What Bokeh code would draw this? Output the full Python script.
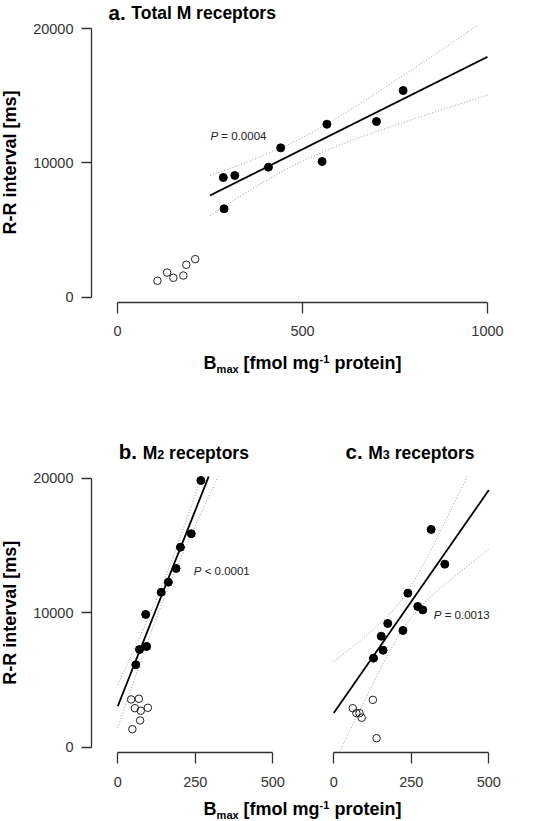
import numpy as np
from bokeh.plotting import figure
from bokeh.models import Range1d, FixedTicker, Label, LinearAxis
from bokeh.layouts import column, row
from bokeh.embed import file_html
from bokeh.resources import INLINE

# ---------------- data ----------------
a_filled_x = [286, 317, 288, 408, 441, 553, 566, 700, 772]
a_filled_y = [8900, 9050, 6570, 9670, 11110, 10090, 12870, 13070, 15380]
a_open_x = [108, 134, 151, 178, 186, 210]
a_open_y = [1210, 1820, 1430, 1600, 2400, 2820]

b_filled_x = [268, 237, 202, 188, 163, 140, 90, 93, 70, 58]
b_filled_y = [19830, 15870, 14870, 13290, 12270, 11520, 9870, 7490, 7260, 6130]
b_open_x = [43, 68, 55, 74, 97, 72, 47]
b_open_y = [3550, 3600, 2900, 2710, 2930, 1990, 1340]

c_filled_x = [314, 358, 239, 271, 287, 174, 223, 153, 159, 128]
c_filled_y = [16190, 13610, 11450, 10460, 10210, 9200, 8680, 8250, 7210, 6620]
c_open_x = [126, 61, 73, 83, 90, 138]
c_open_y = [3520, 2900, 2530, 2530, 2190, 670]

fit_range_a = [250, 1000]
fit_range_b = [0, 500]
fit_range_c = [0, 500]

a_xticks = [0, 500, 1000]
a_xtick_labels = ["0", "500", "1000"]
bc_xticks = [0, 250, 500]
bc_xtick_labels = ["0", "250", "500"]
yticks = [0, 10000, 20000]
ytick_labels = ["0", "10000", "20000"]

# title pieces: (text, font size, space before)
title_a = [("a.", 20.5, False), ("Total M receptors", 17.5, True)]
title_b = [("b.", 20.5, False), ("M", 17.5, True), ("2", 12.5, False), ("receptors", 17.5, True)]
title_c = [("c.", 20.5, False), ("M", 17.5, True), ("3", 12.5, False), ("receptors", 17.5, True)]
p_rest_a = "= 0.0004"
p_rest_b = "< 0.0001"
p_rest_c = "= 0.0013"
ylabel = "R-R interval [ms]"

FONT = "Liberation Sans"
AX = "#333333"
T975 = {7: 2.365, 8: 2.306}
MID = 0.35  # em distance from baseline to the "middle" text anchor

# Arial-bold advance widths (per 1000 em) for piecewise text layout
BW = {" ": 278, "[": 333, "]": 333, "-": 333, ".": 278, "1": 556, "2": 556, "3": 556,
      "a": 556, "b": 611, "c": 556, "e": 556, "f": 333, "g": 611, "i": 278, "l": 278,
      "m": 889, "n": 611, "o": 611, "p": 611, "r": 389, "s": 556, "t": 333, "v": 556,
      "x": 556, "B": 722, "M": 833, "R": 722, "T": 611}


def tw(s, size):
    return sum(BW[ch] for ch in s) * size / 1000.0


def fit_curves(xf, yf, xr):
    x = np.asarray(xf, float)
    y = np.asarray(yf, float)
    n = len(x)
    b1, b0 = np.polyfit(x, y, 1)
    res = y - (b0 + b1 * x)
    s = np.sqrt((res ** 2).sum() / (n - 2))
    xs = np.linspace(xr[0], xr[1], 1200)
    yh = b0 + b1 * xs
    se = s * np.sqrt(1.0 / n + (xs - x.mean()) ** 2 / ((x - x.mean()) ** 2).sum())
    t = T975[n - 2]
    return xs, yh, yh - t * se, yh + t * se


class Panel:
    """A figure whose frame is its whole canvas; px <-> data through a fixed mapping."""

    def __init__(self, ox, oy, w, h, x0px, sx, y0px, sy, top_px=None, bot_px=None):
        self.x0px, self.sx, self.y0px, self.sy = x0px, sx, y0px, sy
        self.ylim = (self.dy(bot_px) if bot_px is not None else -1e9,
                     self.dy(top_px) if top_px is not None else 1e9)
        xr = Range1d(self.dx(ox), self.dx(ox + w))
        yr = Range1d(self.dy(oy + h), self.dy(oy))
        self.p = figure(width=w, height=h, x_range=xr, y_range=yr, title=None,
                        toolbar_location=None, output_backend="svg",
                        x_axis_location=None, y_axis_location=None, min_border=0)
        p = self.p
        p.grid.visible = False
        p.outline_line_color = None
        p.background_fill_color = "white"
        p.border_fill_color = "white"

    def dx(self, px):
        return (px - self.x0px) / self.sx

    def dy(self, py):
        return (self.y0px - py) / self.sy

    def text(self, px, py, s, size, style="bold", align="left", angle=0.0,
             xoff=0.0, color="black"):
        # (px, py) is the middle anchor of the text, in page pixels
        self.p.add_layout(Label(x=self.dx(px), y=self.dy(py), text=s, x_offset=xoff,
                                text_font=FONT, text_font_size=f"{size}px",
                                text_font_style=style, text_align=align,
                                text_baseline="middle", angle=angle, text_color=color))

    def axis(self, side, ticks, labels, bounds, line_px, tick_len, standoff):
        loc = self.dy(line_px) if side == "below" else self.dx(line_px)
        ax = LinearAxis(fixed_location=loc, ticker=FixedTicker(ticks=ticks), bounds=bounds)
        ax.major_label_overrides = {t: l for t, l in zip(ticks, labels)}
        ax.major_tick_out = tick_len
        ax.major_tick_in = 0
        ax.minor_tick_out = 0
        ax.minor_tick_in = 0
        ax.axis_line_color = AX
        ax.axis_line_width = 1.3
        ax.major_tick_line_color = AX
        ax.major_tick_line_width = 1.3
        ax.major_label_text_font = FONT
        ax.major_label_text_font_size = "14.5px"
        ax.major_label_text_color = AX
        ax.major_label_standoff = standoff
        self.p.add_layout(ax, side)


def clip(yv, lim):
    yv = np.array(yv, float)
    yv[(yv < lim[0]) | (yv > lim[1])] = np.nan
    return yv


def draw_data(pn, fx, fy, ox_, oy_, xr):
    p = pn.p
    xs, yh, lo, hi = fit_curves(fx, fy, xr)
    p.line(xs, clip(lo, pn.ylim), line_color="#8c8c8c", line_width=1, line_dash="1 2")
    p.line(xs, clip(hi, pn.ylim), line_color="#8c8c8c", line_width=1, line_dash="1 2")
    p.line(xs, clip(yh, pn.ylim), line_color="black", line_width=1.8)
    p.scatter(ox_, oy_, size=7.5, marker="circle", fill_color=None,
              line_color="#222222", line_width=1)
    p.scatter(fx, fy, size=8, marker="circle", fill_color="black", line_color="black")


def p_value(pn, px, py, rest):
    size = 11.5
    pn.text(px, py, "P", size, style="italic", color="#222222")
    pn.text(px, py, rest, size, style="normal",
            xoff=(667 + 278) * size / 1000.0, color="#222222")


def bmax_label(pn, cx, base):
    size, small = 18, 11
    sp = tw(" ", size)
    # (text, size, baseline shift up, gap before)
    parts = [("B", size, 0, 0), ("max", small, -3, 0), ("[fmol mg", size, 0, sp),
             ("-1", small, 7, 0), ("protein]", size, 0, sp)]
    total = sum(tw(s, z) + g for s, z, _, g in parts)
    off = 0.0
    for s, z, yo, gap in parts:
        off += gap
        pn.text(cx - total / 2.0, base - yo - MID * z, s, z, xoff=off)
        off += tw(s, z)


def title_pieces(pn, px, base, parts):
    off = 0.0
    prev = parts[0][1]
    for s, z, gap in parts:
        if gap:
            off += tw(" ", max(prev, z))
        pn.text(px, base - MID * z, s, z, xoff=off)
        off += tw(s, z)
        prev = z


# ---------------- panel a (page y 0..410) ----------------
A = Panel(0, 0, 547, 410, 117.0, 0.37, 296.5, 0.013425, top_px=25, bot_px=301)
A.axis("below", a_xticks, a_xtick_labels, (0, 1000), 301.5, 11, 13)
A.axis("left", yticks, ytick_labels, (0, 20000), 91, 10, 8)
draw_data(A, a_filled_x, a_filled_y, a_open_x, a_open_y, fit_range_a)
p_value(A, 210, 135, p_rest_a)
title_pieces(A, 108, 19, title_a)
A.text(9, 162, ylabel, 18, align="center", angle=np.pi / 2)
bmax_label(A, 302, 369)

# ---------------- panel b (page x 0..290, y 410..795) ----------------
Bp = Panel(0, 410, 290, 385, 117.3, 0.31, 746.7, 0.01345, top_px=476, bot_px=752)
Bp.axis("below", bc_xticks, bc_xtick_labels, (0, 500), 752, 11, 13)
Bp.axis("left", yticks, ytick_labels, (0, 20000), 91, 10, 8)
draw_data(Bp, b_filled_x, b_filled_y, b_open_x, b_open_y, fit_range_b)
p_value(Bp, 193.3, 570, p_rest_b)
title_pieces(Bp, 118.3, 458.3, title_b)
Bp.text(9, 612.2, ylabel, 18, align="center", angle=np.pi / 2)

# ---------------- panel c (page x 290..547, y 410..795) ----------------
Cp = Panel(290, 410, 257, 385, 333.3, 0.31, 746.7, 0.01345, top_px=476, bot_px=752)
Cp.axis("below", bc_xticks, bc_xtick_labels, (0, 500), 752, 11, 13)
draw_data(Cp, c_filled_x, c_filled_y, c_open_x, c_open_y, fit_range_c)
p_value(Cp, 433.3, 614.3, p_rest_c)
title_pieces(Cp, 345, 458.3, title_c)

# ---------------- shared x label (page y 795..821) ----------------
Lp = Panel(0, 795, 547, 26, 0.0, 1.0, 821.0, 1.0)
bmax_label(Lp, 302, 815)

layout = column(A.p, row(Bp.p, Cp.p), Lp.p)
open("out.html", "w").write(file_html(layout, INLINE))
